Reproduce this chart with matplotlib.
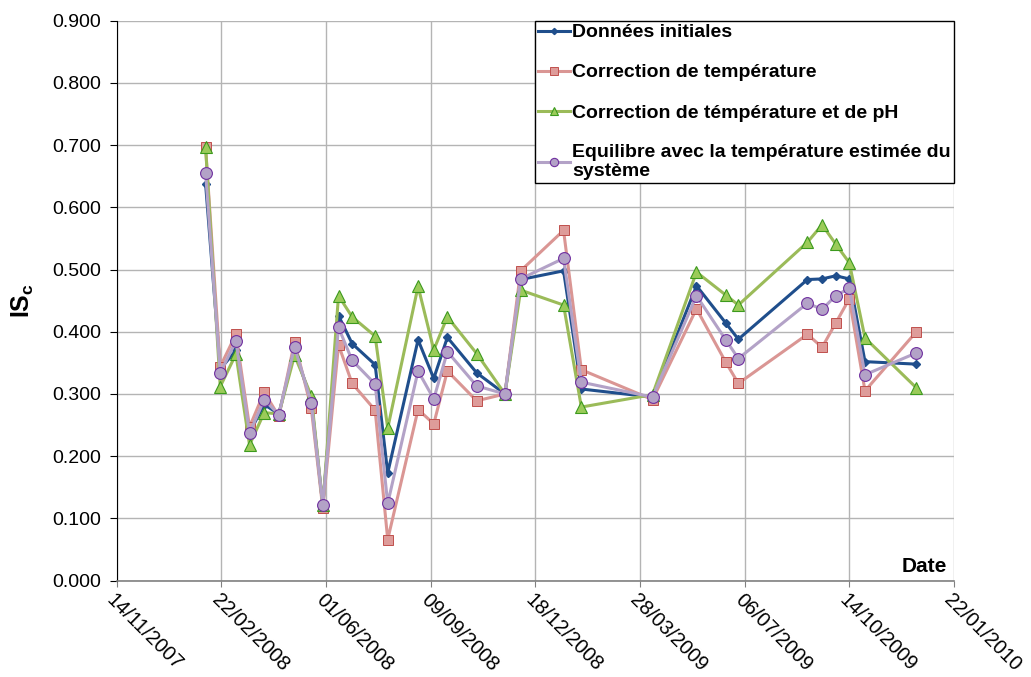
import matplotlib
matplotlib.use("Agg")
from matplotlib import pyplot as plt
import matplotlib.dates as mdates
import pandas as pd

plt.rcParams['font.family'] = ['Liberation Sans', 'DejaVu Sans']
plt.rcParams['mathtext.fontset'] = 'custom'
plt.rcParams['mathtext.bf'] = 'Liberation Sans:bold'
plt.rcParams['mathtext.rm'] = 'Liberation Sans'

# sampling dates
dates = ['2008-02-07', '2008-02-21', '2008-03-07', '2008-03-20', '2008-04-03',
         '2008-04-17', '2008-05-02', '2008-05-18', '2008-05-29', '2008-06-13',
         '2008-06-26', '2008-07-18', '2008-07-30', '2008-08-28', '2008-09-12',
         '2008-09-25', '2008-10-23', '2008-11-19', '2008-12-04', '2009-01-14',
         '2009-01-31', '2009-04-09', '2009-05-21', '2009-06-18', '2009-06-30',
         '2009-09-04', '2009-09-18', '2009-10-01', '2009-10-14', '2009-10-29',
         '2009-12-17']

initiales = [0.638, 0.340, 0.370, 0.238, 0.283, 0.268, 0.370, 0.290, 0.120, 0.426,
             0.381, 0.347, 0.173, 0.387, 0.325, 0.391, 0.334, 0.300, 0.484, 0.498,
             0.308, 0.295, 0.474, 0.414, 0.388, 0.484, 0.485, 0.490, 0.485, 0.352,
             0.348]
corr_temp = [0.697, 0.344, 0.396, 0.247, 0.303, 0.264, 0.384, 0.277, 0.116, 0.379,
             0.317, 0.274, 0.066, 0.275, 0.252, 0.337, 0.289, 0.300, 0.498, 0.563,
             0.339, 0.291, 0.437, 0.351, 0.317, 0.396, 0.375, 0.414, 0.453, 0.305,
             0.400]
corr_temp_ph = [0.697, 0.312, 0.364, 0.218, 0.270, 0.268, 0.362, 0.297, 0.121, 0.458,
                0.424, 0.393, 0.245, 0.473, 0.371, 0.424, 0.365, 0.300, 0.467, 0.443,
                0.279, 0.299, 0.496, 0.459, 0.443, 0.544, 0.572, 0.541, 0.511, 0.390,
                0.310]
equilibre = [0.656, 0.334, 0.385, 0.237, 0.291, 0.267, 0.376, 0.286, 0.121, 0.407,
             0.354, 0.316, 0.124, 0.337, 0.292, 0.368, 0.313, 0.300, 0.485, 0.518,
             0.319, 0.295, 0.458, 0.387, 0.357, 0.446, 0.436, 0.458, 0.470, 0.331,
             0.366]

labels = ['Données initiales', 'Correction de température',
          'Correction de témpérature et de pH',
          'Equilibre avec la température estimée du\nsystème']

x = pd.to_datetime(dates)
start = pd.Timestamp('2007-11-14')
tick_dates = [start + pd.Timedelta(days=100 * k) for k in range(9)]

fig = plt.figure(figsize=(10.31, 6.77), dpi=100)
ax = fig.add_axes([0.1131, 0.1424, 0.8122, 0.8269])

ax.plot(x, initiales, color='#1F4E8C', lw=2.2, marker='D', ms=4.5,
        mfc='#1F4E8C', mec='#1F4E8C', label=labels[0])
ax.plot(x, corr_temp, color='#DA9694', lw=2.2, marker='s', ms=7.5,
        mfc='#DE9C9A', mec='#C0504D', mew=0.7, label=labels[1])
ax.plot(x, corr_temp_ph, color='#9BBB59', lw=2.2, marker='^', ms=8,
        mfc='#9BCB59', mec='#3C9A1E', mew=0.8, label=labels[2])
ax.plot(x, equilibre, color='#B3A2C7', lw=2.2, marker='o', ms=8.5,
        mfc='#B3A2C7', mec='#7030A0', mew=0.8, label=labels[3])

ax.set_xlim(tick_dates[0], tick_dates[-1])
ax.set_ylim(0, 0.9)
ax.set_xticks(tick_dates)
ax.xaxis.set_major_formatter(mdates.DateFormatter('%d/%m/%Y'))
ax.set_yticks([i / 10 for i in range(10)])
ax.yaxis.set_major_formatter(matplotlib.ticker.FormatStrFormatter('%.3f'))

ax.grid(True, color='#B4B4B4', lw=1.0)
ax.set_axisbelow(True)
for s in ['top', 'right']:
    ax.spines[s].set_visible(False)
ax.spines['left'].set_color('black')
ax.spines['bottom'].set_color('#808080')
ax.spines['bottom'].set_linewidth(1.2)
ax.tick_params(axis='y', direction='out', length=5, labelsize=14, color='black', pad=6)
ax.tick_params(axis='x', direction='out', length=4, labelsize=14.5, color='#808080', pad=3)
for t in ax.get_xticklabels():
    t.set_rotation(-45)
    t.set_ha('left')
    t.set_va('top')
    t.set_rotation_mode('anchor')

ax.set_ylabel(r'$\mathbf{IS_c}$', fontsize=18, labelpad=12)
ax.annotate('Date', xy=(1, 0), xycoords='axes fraction', xytext=(-7, 9),
            textcoords='offset pixels', ha='right', va='baseline',
            fontsize=15, fontweight='bold')

leg = ax.legend(loc='upper right', bbox_to_anchor=(1, 1), borderaxespad=0,
                fancybox=False, framealpha=1, edgecolor='black',
                prop={'weight': 'bold', 'size': 14}, handlelength=1.6,
                handletextpad=0.15, borderpad=0.15, labelspacing=1.16,
                markerscale=0.7)
leg.get_frame().set_linewidth(1.0)
for t in leg.get_texts():
    t.set_linespacing(1.15)

fig.savefig('out.png', dpi=100)
